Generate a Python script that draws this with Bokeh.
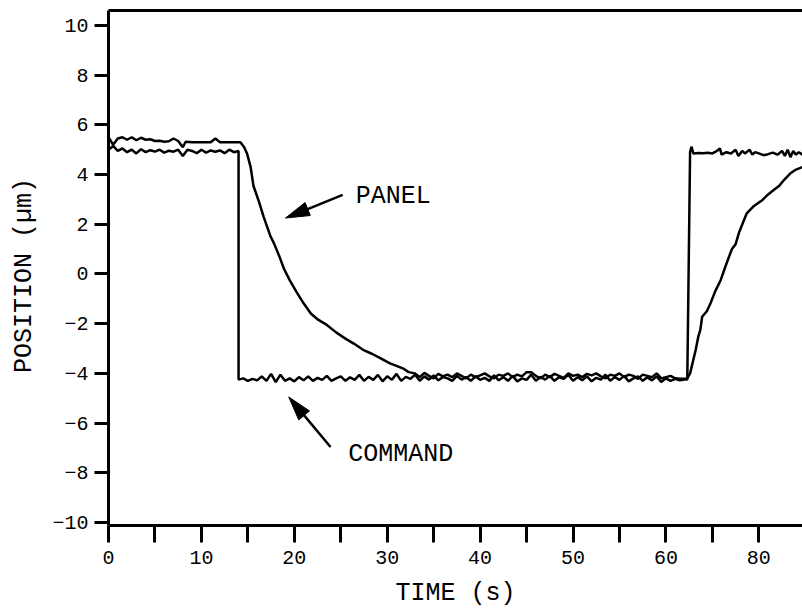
from bokeh.plotting import figure
from bokeh.models import FixedTicker, LinearAxis, Label, Range1d
from bokeh.embed import file_html
from bokeh.resources import INLINE

# ---------------- data ----------------
cmd_t = [0, 0.5, 1.0, 1.5, 2.0, 2.5, 3.0, 3.5, 4.0, 4.5, 5.0, 5.5, 6.0, 6.5, 7.0, 7.5,
         8.0, 8.5, 9.0, 9.5, 10.0, 10.5, 11.0, 11.5, 12.0, 12.5, 13.0, 13.5, 14.0,
         14.0, 14.5, 15.0, 15.5, 16.0, 16.5, 17.0, 17.5, 18.0, 18.5, 19.0, 19.5, 20.0,
         20.5, 21.0, 21.5, 22.0, 22.5, 23.0, 23.5, 24.0, 24.5, 25.0, 25.5, 26.0, 26.5,
         27.0, 27.5, 28.0, 28.5, 29.0, 29.5, 30.0, 30.5, 31.0, 31.5, 32.0, 32.5, 33.0,
         33.5, 34.0, 34.5, 35.0, 35.5, 36.0, 36.5, 37.0, 37.5, 38.0, 38.5, 39.0, 39.5,
         40.0, 40.5, 41.0, 41.5, 42.0, 42.5, 43.0, 43.5, 44.0, 44.5, 45.0, 45.5, 46.0,
         46.5, 47.0, 47.5, 48.0, 48.5, 49.0, 49.5, 50.0, 50.5, 51.0, 51.5, 52.0, 52.5,
         53.0, 53.5, 54.0, 54.5, 55.0, 55.5, 56.0, 56.5, 57.0, 57.5, 58.0, 58.5, 59.0,
         59.5, 60.0, 60.5, 61.0, 61.5, 62.0, 62.3,
         62.6, 62.75, 62.95, 63.5, 64.0, 64.5, 65.0, 65.5, 65.8, 66.0, 66.5, 67.0, 67.5,
         67.8, 68.2, 68.5, 69.0, 69.3, 69.6, 70.0, 70.5, 71.0, 71.5, 72.0, 72.5, 72.8,
         73.1, 73.4, 73.7, 74.0, 74.3, 74.7]
cmd_y = [5.0, 5.15, 4.95, 5.05, 4.9, 5.0, 4.85, 5.02, 4.9, 4.98, 4.92, 5.0, 4.88, 4.96, 4.92, 5.0,
         4.75, 5.0, 4.95, 4.86, 5.0, 4.88, 4.97, 4.92, 4.97, 4.86, 5.0, 4.9, 4.95,
         -4.25, -4.2, -4.3, -4.22, -4.28, -4.12, -4.3, -4.02, -4.35, -4.05, -4.3, -4.2, -4.32,
         -4.15, -4.28, -4.12, -4.3, -4.18, -4.26, -4.1, -4.3, -4.2, -4.12, -4.3, -4.16, -4.26,
         -4.06, -4.3, -4.14, -4.26, -4.06, -4.32, -4.12, -4.26, -4.02, -4.3, -4.14, -4.22, -4.05,
         -4.3, -4.12, -4.25, -4.08, -4.28, -4.15, -4.2, -4.3, -4.1, -4.25, -4.15, -4.3, -4.12,
         -4.26, -4.18, -4.3, -4.08, -4.28, -4.15, -4.3, -4.1, -4.32, -4.2, -4.26, -4.05, -4.3,
         -4.14, -4.25, -4.1, -4.3, -4.16, -4.22, -4.06, -4.3, -4.15, -4.28, -4.12, -4.32, -4.18,
         -4.25, -4.05, -4.3, -4.15, -4.26, -4.1, -4.32, -4.2, -4.12, -4.3, -4.16, -4.28, -4.12,
         -4.35, -4.2, -4.3, -4.22, -4.28, -4.25, -4.25,
         4.9, 5.12, 4.85, 4.87, 4.86, 4.88, 4.85, 4.95, 5.05, 4.8, 4.9, 4.85, 5.0,
         4.75, 4.95, 4.85, 5.0, 4.8, 4.9, 4.85, 4.78, 4.82, 4.88, 4.8, 4.95, 4.75,
         5.0, 4.7, 4.95, 4.8, 4.9, 4.8]

pan_t = [0, 0.5, 1.0, 1.5, 2.0, 2.5, 3.0, 3.5, 4.0, 4.5, 5.0, 5.5, 6.0, 6.5, 7.0, 7.5,
         8.0, 8.3, 9.0, 10.0, 11.0, 11.5, 12.0, 13.0, 14.2,
         14.6, 14.9, 15.3, 15.6, 16.2, 16.7, 17.4, 17.8, 18.4, 18.9, 19.5, 20.2, 21.0,
         21.8, 22.6, 23.5, 24.5, 25.5, 26.4, 27.4, 28.4, 29.3, 30.3, 31.0, 31.8, 32.3,
         33.0, 33.5, 34.0, 34.5, 35.0, 35.5, 36.0, 36.5, 37.0, 37.5, 38.0, 38.5, 39.0,
         39.5, 40.0, 40.5, 41.0, 41.5, 42.0, 42.5, 43.0, 43.5, 44.0, 44.5, 45.0, 45.5,
         46.0, 46.5, 47.0, 47.5, 48.0, 48.5, 49.0, 49.5, 50.0, 50.5, 51.0, 51.5, 52.0,
         52.5, 53.0, 53.5, 54.0, 54.5, 55.0, 55.5, 56.0, 56.5, 57.0, 57.5, 58.0, 58.5,
         59.0, 59.5, 60.0, 60.5, 61.0, 61.5, 62.0, 62.3,
         62.6, 63.2, 63.5, 63.7, 63.9, 64.4, 64.8, 65.3, 65.9, 66.5, 67.1, 67.5, 67.9,
         68.7, 69.4, 70.4, 71.0, 71.6, 72.2, 72.7, 73.4, 74.0, 74.7]
pan_y = [5.5, 5.2, 5.45, 5.5, 5.4, 5.5, 5.38, 5.48, 5.4, 5.42, 5.35, 5.36, 5.32, 5.34, 5.45, 5.35,
         5.1, 5.32, 5.3, 5.3, 5.3, 5.45, 5.3, 5.3, 5.3,
         5.1, 4.86, 4.3, 3.55, 2.9, 2.3, 1.55, 1.24, 0.7, 0.2, -0.25, -0.7, -1.18,
         -1.6, -1.85, -2.05, -2.35, -2.6, -2.8, -3.05, -3.22, -3.4, -3.6, -3.7, -3.82, -3.95,
         -4.0, -4.15, -3.98, -4.1, -4.2, -4.02, -4.12, -4.05, -4.15, -4.0, -4.1, -4.2, -4.05,
         -4.15, -4.08, -4.0, -4.12, -4.2, -4.05, -4.1, -4.0, -4.15, -4.05, -4.12, -3.95, -3.95,
         -4.1, -4.2, -4.05, -4.15, -4.02, -4.1, -4.18, -4.0, -4.1, -4.05, -4.15, -4.02, -4.08,
         -4.0, -4.12, -4.2, -4.05, -4.1, -4.0, -4.15, -4.05, -4.1, -4.22, -4.05, -4.1, -4.15,
         -4.0, -4.2, -4.15, -4.1, -4.2, -4.22, -4.22, -4.2,
         -4.0, -3.06, -2.5, -2.25, -1.72, -1.5, -1.18, -0.7, -0.24, 0.4, 1.0, 1.2, 1.7,
         2.44, 2.71, 2.98, 3.2, 3.38, 3.55, 3.78, 4.05, 4.2, 4.3]

x_major = [0, 10, 20, 30, 40, 50, 60, 70]
x_tick_labels = ["0", "10", "20", "30", "40", "50", "60", "80"]
x_minor = [5, 15, 25, 35, 45, 55, 65]
y_major = [-10, -8, -6, -4, -2, 0, 2, 4, 6, 8, 10]

# annotations: (text, x, y) and arrows (tail -> tip) in data units
ann_text = ["PANEL", "COMMAND"]
ann_x = [26.6, 25.8]
ann_y = [3.1, -7.28]
arrow_tail = [(25.2, 3.18), (23.9, -6.96)]
arrow_tip = [(19.05, 2.25), (19.4, -4.95)]

# ---------------- figure ----------------
X0, X1 = 0, 74.7
Y0, Y1 = -10.12, 10.6
W, H = 802, 613
ML, MR, MT, MB = 108, 0, 10, 88

FONT = "Liberation Mono"

p = figure(width=W, height=H, x_range=Range1d(X0, X1), y_range=Range1d(Y0, Y1),
           output_backend="svg", toolbar_location=None,
           min_border_left=ML, min_border_right=MR, min_border_top=MT, min_border_bottom=MB)
p.outline_line_color = None
p.grid.visible = False
p.background_fill_color = "white"
p.border_fill_color = "white"

# x axis
xa = p.xaxis[0]
xa.ticker = FixedTicker(ticks=x_major, minor_ticks=x_minor)
xa.major_label_overrides = dict(zip(x_major, x_tick_labels))
xa.axis_label = "TIME (s)"
# y axis
ya = p.yaxis[0]
ya.ticker = FixedTicker(ticks=y_major, minor_ticks=[])
ya.axis_label = "POSITION  (\u00b5m)"

for ax in (xa, ya):
    ax.axis_line_width = 3
    ax.axis_line_color = "black"
    ax.major_tick_line_width = 3
    ax.minor_tick_line_width = 3
    ax.major_tick_in = 0
    ax.minor_tick_in = 0
    ax.major_label_text_font = FONT
    ax.major_label_text_font_size = "20px"
    ax.major_label_text_color = "black"
    ax.axis_label_text_font = FONT
    ax.axis_label_text_font_size = "25px"
    ax.axis_label_text_font_style = "normal"
    ax.axis_label_text_color = "black"

xa.major_tick_out = 17
xa.minor_tick_out = 17
xa.major_label_standoff = 8
xa.axis_label_standoff = 12
ya.major_tick_out = 14
ya.minor_tick_out = 0
ya.major_label_standoff = 6
ya.axis_label_standoff = 10

# top border as an axis line only
top = LinearAxis(ticker=FixedTicker(ticks=[]), axis_line_width=3, axis_line_color="black",
                 major_tick_out=0, major_tick_in=0, minor_tick_out=0, minor_tick_in=0,
                 major_label_text_font_size="0px")
p.add_layout(top, "above")

# data lines
p.line(cmd_t, cmd_y, line_color="black", line_width=2.5)
p.line(pan_t, pan_y, line_color="black", line_width=2.5)

# annotation text
for s, x, y in zip(ann_text, ann_x, ann_y):
    p.add_layout(Label(x=x, y=y, text=s, text_font=FONT, text_font_size="25px",
                       text_color="black", text_baseline="middle", text_align="left"))

# arrows: shaft line + narrow filled head (computed in pixel space)
sx = (W - ML - MR) / (X1 - X0)
sy = (H - MT - MB) / (Y1 - Y0)
HEAD_L, HEAD_W = 24.0, 7.0
for (tx0, ty0), (tx1, ty1) in zip(arrow_tail, arrow_tip):
    dx = (tx1 - tx0) * sx
    dy = (ty1 - ty0) * sy
    n = (dx * dx + dy * dy) ** 0.5
    ux, uy = dx / n, dy / n
    bx = tx1 - HEAD_L * ux / sx
    by = ty1 - HEAD_L * uy / sy
    px_, py_ = -uy, ux
    xs = [tx1, bx + HEAD_W * px_ / sx, bx - HEAD_W * px_ / sx]
    ys = [ty1, by + HEAD_W * py_ / sy, by - HEAD_W * py_ / sy]
    p.line([tx0, bx], [ty0, by], line_color="black", line_width=2.5)
    p.patch(xs, ys, fill_color="black", line_color="black", line_width=1)

open("out.html", "w").write(file_html(p, INLINE))
